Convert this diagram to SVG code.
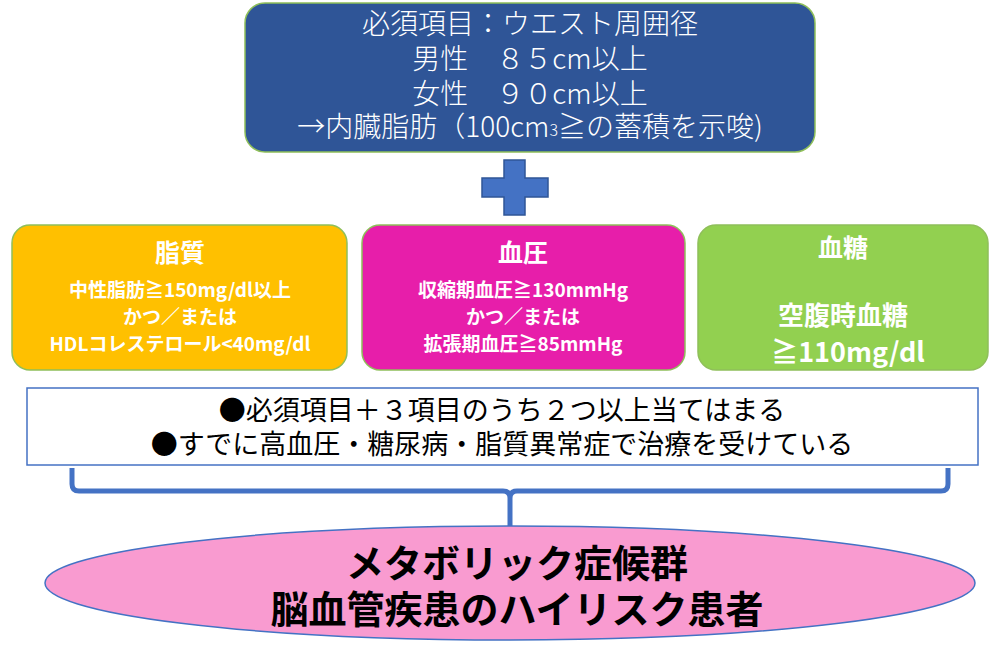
<svg xmlns="http://www.w3.org/2000/svg" width="1000" height="651" viewBox="0 0 1000 651">
<style>
text{font-family:"Noto Sans CJK JP","Noto Sans",sans-serif;text-anchor:middle;dominant-baseline:central}
.w{fill:#fff}
.h{font-size:25px;font-weight:bold}
.s{font-size:19px;font-weight:bold}
.t{font-size:28px;font-weight:300}
.box{stroke:#8fbf5a;stroke-width:1.5}
</style>
<rect width="1000" height="651" fill="#fff"/>
<g id="top">
<rect class="box" x="245" y="3" width="570" height="149" rx="20" fill="#2F5597"/>
<text class="w t" x="530" y="22">必須項目：ウエスト周囲径</text>
<text class="w t" x="530" y="57">男性　８５cm以上</text>
<text class="w t" x="530" y="92">女性　９０cm以上</text>
<text class="w t" x="530" y="125">→内臓脂肪（100cm<tspan font-size="16" dy="4">3</tspan><tspan dy="-4">≧の蓄積を示唆)</tspan></text>
</g>
<g id="plus">
<path d="M504 160H525V178H548V197H525V215H504V197H482V178H504Z" fill="#4472C4" stroke="#2F5597" stroke-width="1.5"/>
</g>
<g id="lipid">
<rect class="box" x="12" y="225" width="335" height="145" rx="18" fill="#FFC000"/>
<text class="w h" x="180" y="251">脂質</text>
<text class="w s" x="180" y="288">中性脂肪≧150mg/dl以上</text>
<text class="w s" x="180" y="315">かつ／または</text>
<text class="w s" x="180" y="342">HDLコレステロール&lt;40mg/dl</text>
</g>
<g id="bp">
<rect class="box" x="362" y="225" width="323" height="145" rx="18" fill="#E71EAA"/>
<text class="w h" x="523" y="251">血圧</text>
<text class="w s" x="523" y="288">収縮期血圧≧130mmHg</text>
<text class="w s" x="523" y="315">かつ／または</text>
<text class="w s" x="523" y="342">拡張期血圧≧85mmHg</text>
</g>
<g id="glucose">
<rect class="box" x="698" y="225" width="290" height="145" rx="18" fill="#92D050"/>
<text class="w h" x="843" y="246">血糖</text>
<text class="w" font-size="26" font-weight="bold" x="843" y="313">空腹時血糖</text>
<text class="w" font-size="27" font-weight="bold" x="848" y="350">≧110mg/dl</text>
</g>
<g id="cond">
<rect x="27" y="388" width="951" height="77" fill="#fff" stroke="#4472C4" stroke-width="1.5"/>
<text font-size="27" x="502" y="408">●必須項目＋３項目のうち２つ以上当てはまる</text>
<text font-size="27" x="502" y="442">●すでに高血圧・糖尿病・脂質異常症で治療を受けている</text>
</g>
<g id="connectors">
<path d="M72 468V484Q72 491 79 491H503Q510 491 510 498V528M948 468V484Q948 491 941 491H517Q510 491 510 498" fill="none" stroke="#4472C4" stroke-width="5"/>
</g>
<g id="result">
<ellipse cx="510" cy="583" rx="465" ry="57" fill="#F99BD0" stroke="#4472C4" stroke-width="1.5"/>
<text font-size="38" font-weight="bold" x="517" y="560">メタボリック症候群</text>
<text font-size="38" font-weight="bold" x="517" y="606">脳血管疾患のハイリスク患者</text>
</g>
</svg>
